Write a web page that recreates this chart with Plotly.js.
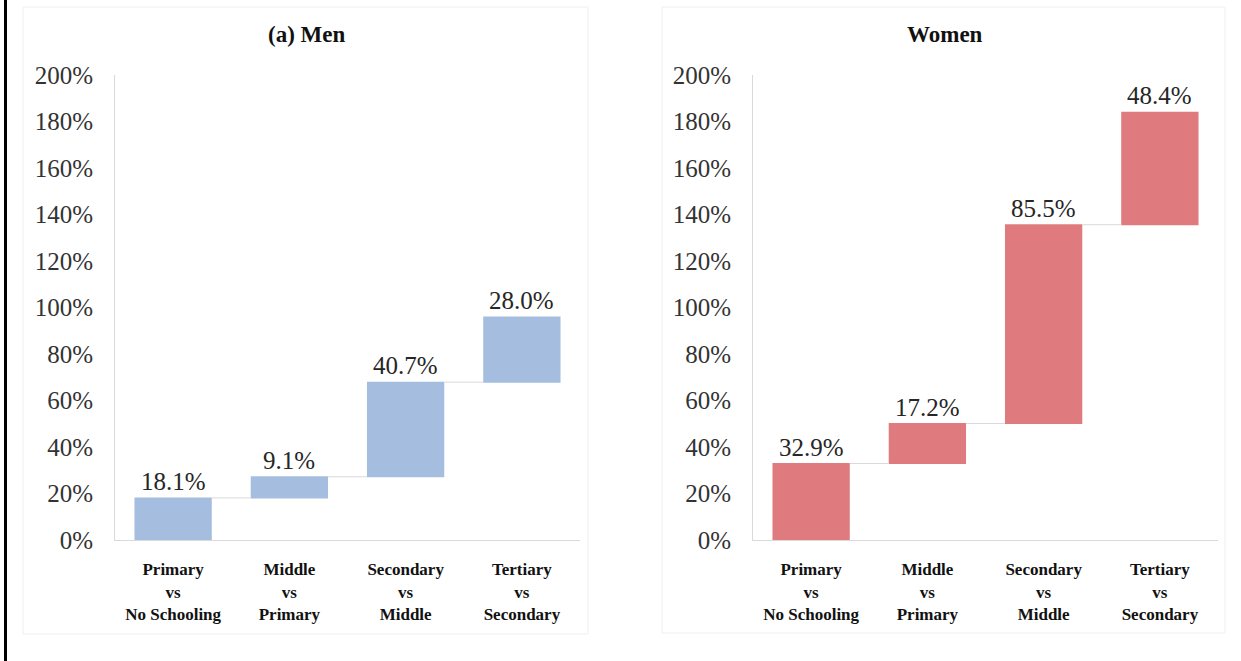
<!DOCTYPE html>
<html>
<head>
<meta charset="utf-8">
<script src="https://cdn.plot.ly/plotly-3.0.1.min.js"></script>
<style>
html,body{margin:0;padding:0;background:#fff;}
#chart{width:1241px;height:661px;}
</style>
</head>
<body>
<div id="chart"></div>
<script>
var categories = ["Primary<br>vs<br>No Schooling", "Middle<br>vs<br>Primary", "Secondary<br>vs<br>Middle", "Tertiary<br>vs<br>Secondary"];
var menValues = [18.1, 9.1, 40.7, 28.0];
var womenValues = [32.9, 17.2, 85.5, 48.4];
var yTickVals = [0, 20, 40, 60, 80, 100, 120, 140, 160, 180, 200];
var yTickText = ["0%", "20%", "40%", "60%", "80%", "100%", "120%", "140%", "160%", "180%", "200%"];
var panelTitles = ["(a) Men", "Women"];

var W = 1241, H = 661;
function px(x){ return x / W; }
function py(y){ return 1 - y / H; }

var serif = "Liberation Serif";
var labelFont = {family: serif, size: 25, color: "#262626"};

function wf(vals, color, xa, ya){
  return {
    type: "waterfall",
    x: categories,
    y: vals,
    measure: vals.map(function(){ return "relative"; }),
    textinfo: "none",
    increasing: {marker: {color: color}},
    decreasing: {marker: {color: color}},
    totals: {marker: {color: color}},
    connector: {line: {color: "#d9d9d9", width: 1}, mode: "between"},
    xaxis: xa, yaxis: ya,
    hoverinfo: "skip",
    showlegend: false
  };
}

function valueLabels(vals, xa, ya){
  var cum = 0;
  return vals.map(function(v, i){
    cum += v;
    return {
      text: v.toFixed(1) + "%",
      xref: xa, yref: ya,
      x: categories[i], y: cum,
      xanchor: "center", yanchor: "bottom",
      yshift: 1,
      showarrow: false,
      font: labelFont
    };
  });
}

var yAxisBase = {
  range: [0, 200],
  tickvals: yTickVals,
  ticktext: yTickText,
  showgrid: false,
  zeroline: false,
  showline: true,
  linecolor: "#d9d9d9",
  linewidth: 1,
  ticks: "",
  ticklabelstandoff: 16,
  tickfont: {family: serif, size: 25, color: "#333333"},
  domain: [py(540), py(75)],
  fixedrange: true
};
var xAxisBase = {
  type: "category",
  showgrid: false,
  zeroline: false,
  showline: true,
  linecolor: "#d9d9d9",
  linewidth: 1,
  ticks: "",
  ticklabelstandoff: 14,
  tickfont: {family: serif, size: 17, color: "#111111", weight: "bold"},
  fixedrange: true
};

var layout = {
  width: W, height: H,
  margin: {l: 0, r: 0, t: 0, b: 0},
  paper_bgcolor: "#ffffff",
  plot_bgcolor: "#ffffff",
  font: {family: serif},
  waterfallgap: 0.335,
  xaxis: Object.assign({}, xAxisBase, {domain: [px(115), px(580)], anchor: "y"}),
  yaxis: Object.assign({}, yAxisBase, {anchor: "x"}),
  xaxis2: Object.assign({}, xAxisBase, {domain: [px(753), px(1218)], anchor: "y2"}),
  yaxis2: Object.assign({}, yAxisBase, {anchor: "x2"}),
  shapes: [
    {type: "rect", xref: "paper", yref: "paper", x0: px(4), x1: px(7), y0: 0, y1: 1, fillcolor: "#000000", line: {width: 0}},
    {type: "rect", xref: "paper", yref: "paper", x0: px(23), x1: px(588), y0: py(634), y1: py(7), line: {color: "#f0f0f0", width: 1}, fillcolor: "rgba(0,0,0,0)", layer: "below"},
    {type: "rect", xref: "paper", yref: "paper", x0: px(662), x1: px(1225), y0: py(633), y1: py(7), line: {color: "#f0f0f0", width: 1}, fillcolor: "rgba(0,0,0,0)", layer: "below"}
  ],
  annotations: [
    {text: panelTitles[0], xref: "paper", yref: "paper", x: px(306), y: py(35), xanchor: "center", yanchor: "middle", showarrow: false,
     font: {family: serif, size: 23, color: "#111111", weight: "bold"}},
    {text: panelTitles[1], xref: "paper", yref: "paper", x: px(945), y: py(35), xanchor: "center", yanchor: "middle", showarrow: false,
     font: {family: serif, size: 23, color: "#111111", weight: "bold"}}
  ].concat(valueLabels(menValues, "x", "y"), valueLabels(womenValues, "x2", "y2"))
};

var data = [
  wf(menValues, "#a5bee0", "x", "y"),
  wf(womenValues, "#df7b7e", "x2", "y2")
];

Plotly.newPlot("chart", data, layout, {staticPlot: true, displayModeBar: false});
</script>
</body>
</html>
